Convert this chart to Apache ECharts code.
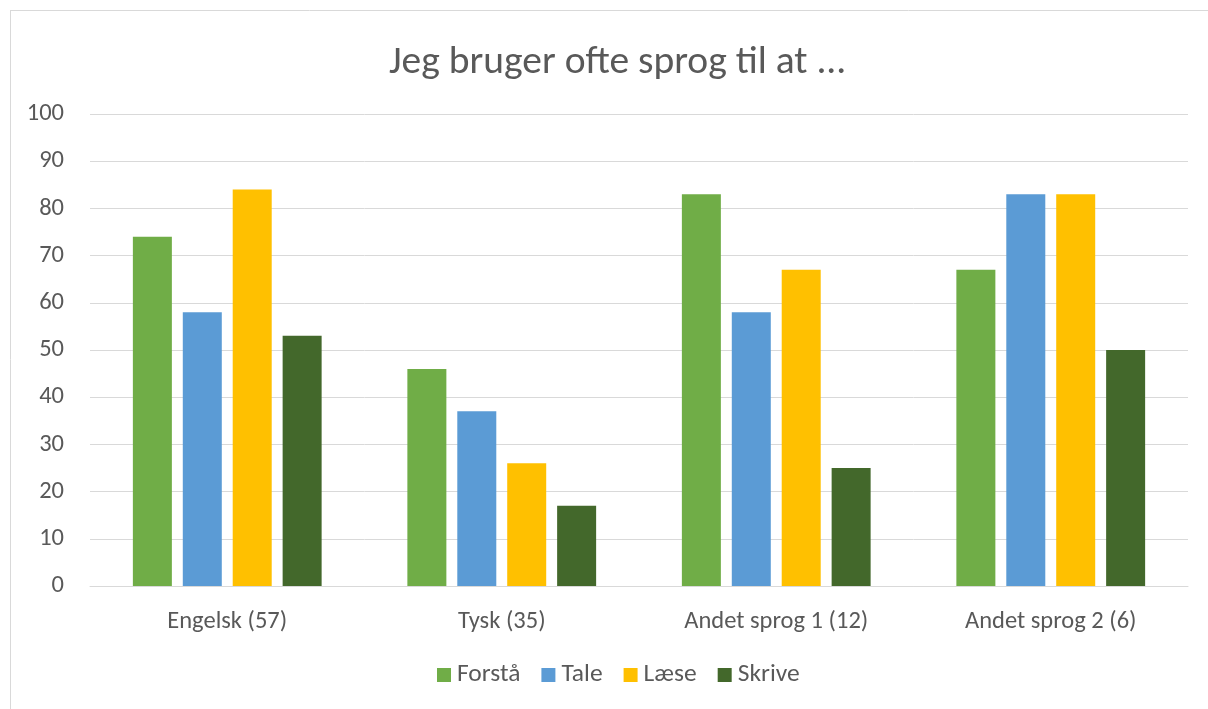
<!DOCTYPE html>
<html>
<head>
<meta charset="utf-8">
<script src="https://cdn.jsdelivr.net/npm/echarts@6/dist/echarts.min.js"></script>
<style>
html,body{margin:0;padding:0;background:#fff;}
#c{width:1208px;height:709px;}
</style>
</head>
<body>
<div id="c"></div>
<script>
const categories = ['Engelsk (57)', 'Tysk (35)', 'Andet sprog 1 (12)', 'Andet sprog 2 (6)'];
const seriesNames = ['Forstå', 'Tale', 'Læse', 'Skrive'];
const forstaa = [74, 46, 83, 67];
const tale = [58, 37, 58, 83];
const laese = [84, 26, 67, 83];
const skrive = [53, 17, 25, 50];
const colors = ['#70ad47', '#5b9bd5', '#ffc000', '#43682b'];
const yTicks = {min: 0, max: 100, interval: 10};

const FONT = "Carlito, 'Open Sans', sans-serif";
const TXT = '#595959';
const chart = echarts.init(document.getElementById('c'));
const values = [forstaa, tale, laese, skrive];
chart.setOption({
  animation: false,
  textStyle: {fontFamily: FONT},
  title: {
    text: 'Jeg bruger ofte sprog til at ...',
    left: 384,
    top: 38,
    textStyle: {fontFamily: FONT, fontSize: 39.5, fontWeight: 'normal', color: TXT}
  },
  graphic: [
    {type: 'line', shape: {x1: 10.5, y1: 10, x2: 10.5, y2: 709}, style: {stroke: '#d9d9d9', lineWidth: 1}},
    {type: 'line', shape: {x1: 10, y1: 10.5, x2: 1208, y2: 10.5}, style: {stroke: '#d9d9d9', lineWidth: 1}}
  ],
  legend: {
    bottom: 16,
    left: 432,
    itemWidth: 14,
    itemHeight: 14,
    itemGap: 21,
    icon: 'rect',
    textStyle: {fontFamily: FONT, fontSize: 25.5, color: TXT, padding: [0, 0, 0, 1]},
    data: seriesNames
  },
  grid: {left: 90, right: 20, top: 114, bottom: 123},
  xAxis: {
    type: 'category',
    data: categories,
    axisLine: {lineStyle: {color: '#d9d9d9', width: 1}},
    axisTick: {show: false},
    axisLabel: {fontFamily: FONT, fontSize: 24.5, color: TXT, margin: 23}
  },
  yAxis: {
    type: 'value',
    min: yTicks.min,
    max: yTicks.max,
    interval: yTicks.interval,
    axisLine: {show: false},
    axisTick: {show: false},
    splitLine: {lineStyle: {color: '#d9d9d9', width: 1}},
    axisLabel: {fontFamily: FONT, fontSize: 24.5, color: TXT, margin: 26}
  },
  series: seriesNames.map((n, i) => ({
    name: n,
    type: 'bar',
    data: values[i],
    barWidth: 39,
    barGap: '28%',
    itemStyle: {color: colors[i]}
  }))
});
</script>
</body>
</html>
